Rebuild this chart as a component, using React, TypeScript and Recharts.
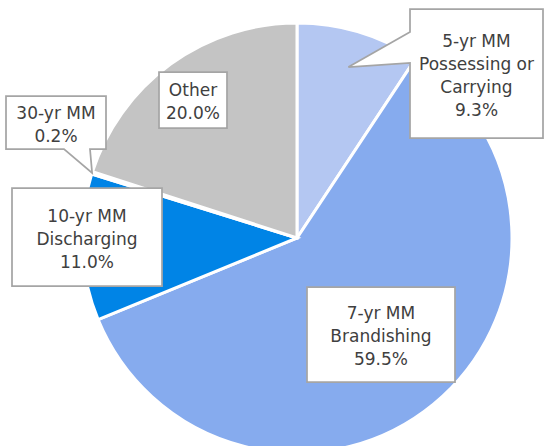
import React from 'react';
import { PieChart, Pie, Cell } from 'recharts';

// slice order: clockwise from 12 o'clock
const categories = [
  '5-yr MM\nPossessing or\nCarrying',
  '7-yr MM\nBrandishing',
  '10-yr MM\nDischarging',
  '30-yr MM',
  'Other',
];
const shares = [9.3, 59.5, 11.0, 0.2, 20.0];
const sliceColors = ['#b4c7f2', '#86abee', '#0084e6', '#ffffff', '#c4c4c4'];

const data = categories.map((name, i) => ({ name, value: shares[i] }));

// label box layout, offsets from the pie centre
const labelBoxes: any[] = [
  { dx: 113, dy: -229, w: 133, h: 129, tip: 0.83, side: 'left', from: 23, to: 54 },
  { dx: 10, dy: 49, w: 148, h: 95 },
  { dx: -285, dy: -50, w: 150, h: 98 },
  { dx: -291, dy: -142, w: 100, h: 53, tip: 1.0, side: 'bottom', from: 58, to: 84 },
  { dx: -138, dy: -166, w: 68, h: 56 },
];

const RAD = Math.PI / 180;
const LINE_H = 23;
const FONT = '"DejaVu Sans", sans-serif';

const calloutPath = (x: number, y: number, b: any, tx: number, ty: number) => {
  const { w, h } = b;
  if (b.side === 'left') {
    return `M${x},${y} H${x + w} V${y + h} H${x} V${y + b.to} L${tx},${ty} L${x},${y + b.from} Z`;
  }
  if (b.side === 'bottom') {
    return `M${x},${y} H${x + w} V${y + h} H${x + b.to} L${tx},${ty} L${x + b.from},${y + h} H${x} Z`;
  }
  return `M${x},${y} H${x + w} V${y + h} H${x} Z`;
};

const renderLabel = (props: any) => {
  const { cx, cy, midAngle, outerRadius, index, name, value } = props;
  const b = labelBoxes[index];
  const x = cx + b.dx;
  const y = cy + b.dy;
  const r = outerRadius * (b.tip ?? 0);
  const tx = cx + r * Math.cos(-midAngle * RAD);
  const ty = cy + r * Math.sin(-midAngle * RAD);
  const lines = [...String(name).split('\n'), `${Number(value).toFixed(1)}%`];
  const midY = y + b.h / 2 + 1.5;
  const firstY = midY - ((lines.length - 1) * LINE_H) / 2;
  return (
    <g key={`lbl-${index}`}>
      <path d={calloutPath(x, y, b, tx, ty)} fill="#ffffff" stroke="#a5a5a5" strokeWidth={1.75} />
      <text
        x={x + b.w / 2}
        textAnchor="middle"
        fill="#404040"
        fontFamily={FONT}
        fontSize={17}
      >
        {lines.map((ln, i) => (
          <tspan key={i} x={x + b.w / 2} y={firstY + i * LINE_H} dominantBaseline="central">
            {ln}
          </tspan>
        ))}
      </text>
    </g>
  );
};

export default function App() {
  return (
    <div style={{ position: 'absolute', left: 0, top: 0, width: 544, height: 446, background: '#fff' }}>
      <PieChart width={544} height={446} margin={{ top: 0, right: 0, bottom: 0, left: 0 }}>
        <Pie
          data={data}
          dataKey="value"
          nameKey="name"
          cx={297}
          cy={238}
          outerRadius={215}
          startAngle={90}
          endAngle={-270}
          stroke="#ffffff"
          strokeWidth={3}
          labelLine={false}
          label={renderLabel}
          isAnimationActive={false}
        >
          {data.map((d, i) => (
            <Cell key={d.name} fill={sliceColors[i]} />
          ))}
        </Pie>
      </PieChart>
    </div>
  );
}
